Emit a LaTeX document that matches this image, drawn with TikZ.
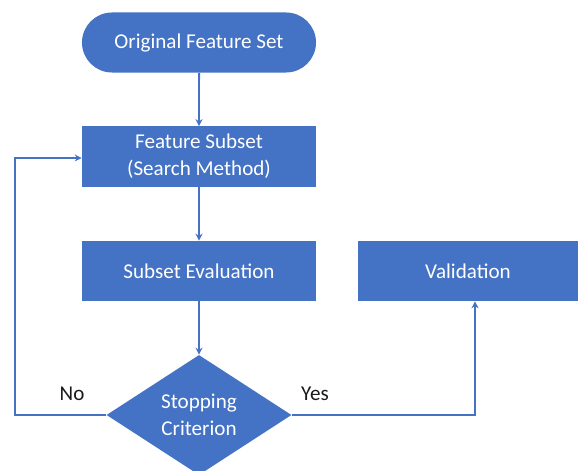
\documentclass[tikz,border=0pt]{standalone}
\usepackage{fontspec}
\setmainfont{Carlito}
\usepackage{xcolor}
\usetikzlibrary{arrows.meta, shapes.geometric, shapes.misc}
\definecolor{flowblue}{HTML}{4472C4}
\definecolor{labelgray}{HTML}{1A1A1A}

\begin{document}
\begin{tikzpicture}[x=0.025cm, y=-0.025cm]
      \tikzstyle{BoxStyle} = [fill=flowblue, text=white, font=\fontsize{15}{19}\selectfont,
        minimum width=5.85cm, minimum height=1.5cm, inner sep=0pt, align=center]
      \tikzstyle{EdgeStyle} = [draw=flowblue, line width=1.4pt, -{Stealth[length=5pt, width=5pt]}]
      \tikzstyle{LabelStyle} = [text=labelgray, font=\fontsize{15}{19}\selectfont]
      \useasboundingbox (0,0) rectangle (579,471);
      \node[BoxStyle, rounded rectangle] (orig) at (199,42.5) {Original Feature Set};
      \node[BoxStyle] (subset) at (199,156.5) {Feature Subset\\(Search Method)};
      \node[BoxStyle] (eval) at (199,271) {Subset Evaluation};
      \node[BoxStyle, minimum width=5.5cm] (valid) at (468,271) {Validation};
      \node[BoxStyle, diamond, minimum width=4.625cm, minimum height=3cm] (stop) at (199,415) {Stopping\\Criterion};
      \coordinate (loop) at (15,158);
      \coordinate (vin) at (475,0);
      \node[LabelStyle] (no) at (72,394) {No};
      \node[LabelStyle] (yes) at (315,394) {Yes};
      \draw[EdgeStyle] (orig) -- (subset);
      \draw[EdgeStyle] (subset) -- (eval);
      \draw[EdgeStyle] (eval) -- (stop);
      \draw[EdgeStyle] (stop.west) -| (loop) -- (subset.west |- loop);
      \draw[EdgeStyle] (stop.east) -| (vin |- valid.south);
\end{tikzpicture}
\end{document}
